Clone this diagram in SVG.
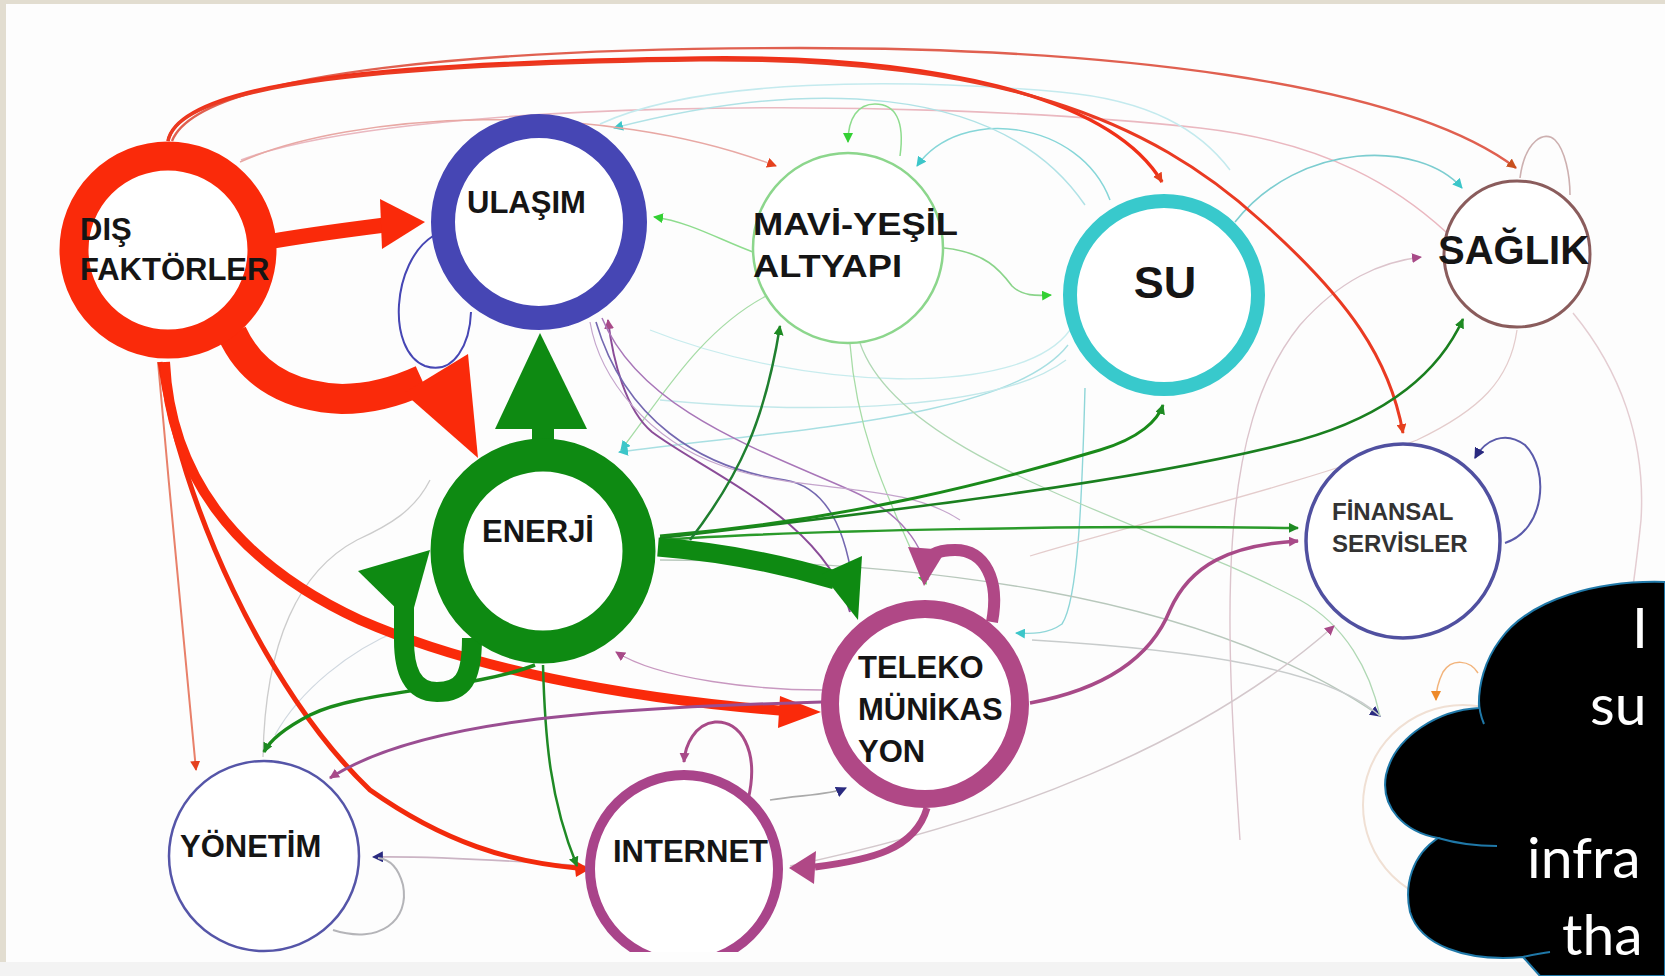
<svg xmlns="http://www.w3.org/2000/svg" width="1665" height="976" viewBox="0 0 1665 976">
<style>
.nt{font-family:"Liberation Sans",Arial,sans-serif;font-weight:bold;fill:#151515}
.ct{font-family:Lato,"Open Sans",sans-serif;font-size:57px;fill:#ffffff}
</style>
<defs>
<marker id="aR" viewBox="0 0 10 10" refX="9" refY="5" markerWidth="10" markerHeight="10" markerUnits="userSpaceOnUse" orient="auto"><path d="M0,0L10,5L0,10z" fill="#e5401e"/></marker>
<marker id="aG" viewBox="0 0 10 10" refX="9" refY="5" markerWidth="10" markerHeight="10" markerUnits="userSpaceOnUse" orient="auto"><path d="M0,0L10,5L0,10z" fill="#1d8a22"/></marker>
<marker id="aLG" viewBox="0 0 10 10" refX="9" refY="5" markerWidth="10" markerHeight="10" markerUnits="userSpaceOnUse" orient="auto"><path d="M0,0L10,5L0,10z" fill="#33d033"/></marker>
<marker id="aC" viewBox="0 0 10 10" refX="9" refY="5" markerWidth="10" markerHeight="10" markerUnits="userSpaceOnUse" orient="auto"><path d="M0,0L10,5L0,10z" fill="#3cc6c9"/></marker>
<marker id="aM" viewBox="0 0 10 10" refX="9" refY="5" markerWidth="10" markerHeight="10" markerUnits="userSpaceOnUse" orient="auto"><path d="M0,0L10,5L0,10z" fill="#a84a88"/></marker>
<marker id="aN" viewBox="0 0 10 10" refX="9" refY="5" markerWidth="11" markerHeight="11" markerUnits="userSpaceOnUse" orient="auto"><path d="M0,0L10,5L0,10z" fill="#2a2a80"/></marker>
<marker id="aO" viewBox="0 0 10 10" refX="9" refY="5" markerWidth="10" markerHeight="10" markerUnits="userSpaceOnUse" orient="auto"><path d="M0,0L10,5L0,10z" fill="#ee8a2a"/></marker>
<marker id="aB" viewBox="0 0 10 10" refX="9" refY="5" markerWidth="10" markerHeight="10" markerUnits="userSpaceOnUse" orient="auto"><path d="M0,0L10,5L0,10z" fill="#c8501e"/></marker>
<clipPath id="cutBottom"><rect x="0" y="0" width="1665" height="952"/></clipPath>
</defs>

<rect width="1665" height="976" fill="#fdfdfd"/>
<rect x="0" y="0" width="1665" height="4" fill="#e2ddd0"/>
<rect x="0" y="0" width="6" height="976" fill="#e2ddd0"/>

<g id="connectors" fill="none">
<path d="M241,160 C400,100 900,95 1200,128 C1330,143 1400,190 1446,232" stroke="#eab8c0" stroke-width="1.6"/>
<path d="M600,124 C700,78 900,78 1060,92 C1150,100 1200,130 1230,170" stroke="#c4eaee" stroke-width="1.5"/>
<path d="M1110,200 C1080,120 960,105 917,166" stroke="#86d6d8" stroke-width="1.5" marker-end="url(#aC)"/>
<path d="M1085,205 C1000,80 800,80 614,128" stroke="#b0e2e6" stroke-width="1.5" marker-end="url(#aC)"/>
<path d="M1235,222 C1300,140 1420,140 1462,188" stroke="#7ccdd0" stroke-width="1.6" marker-end="url(#aC)"/>
<path d="M1068,345 C1010,420 780,430 619,452" stroke="#a8dfe2" stroke-width="1.4" marker-end="url(#aC)"/>
<path d="M1066,360 C1000,410 820,415 660,400" stroke="#c2e8ea" stroke-width="1.4"/>
<path d="M1070,330 C1020,400 800,390 650,330" stroke="#c8ecee" stroke-width="1.3"/>
<path d="M1085,388 C1082,500 1078,600 1062,624 C1048,634 1032,634 1016,633" stroke="#8fd6d8" stroke-width="1.4" marker-end="url(#aC)"/>
<path d="M900,156 C905,120 895,104 875,104 C858,104 848,118 848,142" stroke="#8edc8e" stroke-width="1.5" marker-end="url(#aLG)"/>
<path d="M240,162 C350,112 600,98 776,166" stroke="#e8a8a4" stroke-width="1.5" marker-end="url(#aR)"/>
<path d="M753,252 C720,240 690,222 654,217" stroke="#8edc8e" stroke-width="1.5" marker-end="url(#aLG)"/>
<path d="M944,248 C985,252 1000,270 1012,286 C1022,296 1036,296 1051,295" stroke="#8ad48a" stroke-width="1.6" marker-end="url(#aLG)"/>
<path d="M768,295 C700,330 660,400 621,450" stroke="#a6dca6" stroke-width="1.3" marker-end="url(#aC)"/>
<path d="M850,344 C858,450 900,520 926,584" stroke="#a6dca6" stroke-width="1.3" marker-end="url(#aLG)"/>
<path d="M660,560 C900,560 1200,590 1380,716" stroke="#b8c8bc" stroke-width="1.4" marker-end="url(#aN)"/>
<path d="M860,343 C900,460 1150,520 1300,600 C1345,625 1370,670 1380,716" stroke="#b0d8b4" stroke-width="1.3"/>
<path d="M1032,640 C1200,650 1330,670 1380,716" stroke="#c8cccc" stroke-width="1.3"/>
<path d="M1517,330 C1510,380 1480,410 1417,440 C1300,485 1150,520 1030,556" stroke="#e4cccc" stroke-width="1.3"/>
<path d="M1573,313 C1620,370 1646,440 1641,520 C1637,560 1633,585 1630,610" stroke="#e4cdd2" stroke-width="1.5"/>
<path d="M1240,840 C1225,620 1215,430 1300,325 C1340,280 1380,262 1421,257" stroke="#dcc4cc" stroke-width="1.4" marker-end="url(#aM)"/>
<path d="M790,866 C1000,822 1200,745 1334,626" stroke="#d4c8cc" stroke-width="1.5" marker-end="url(#aM)"/>
<path d="M263,757 C265,640 300,570 357,540 C390,525 415,510 430,480" stroke="#cccccc" stroke-width="1.3"/>
<path d="M275,735 C300,690 350,650 400,630" stroke="#d0d8e0" stroke-width="1.2"/>
<path d="M1478,673 C1470,660 1452,658 1443,672 C1438,682 1436,692 1436,700" stroke="#f2b47c" stroke-width="1.5" marker-end="url(#aO)"/>
<path d="M1520,178 C1525,140 1545,130 1555,140 C1565,150 1570,175 1570,195" stroke="#cdb0b0" stroke-width="1.6"/>
<path d="M433,236 C392,262 386,350 425,366 C455,376 470,342 471,312" stroke="#4646b4" stroke-width="2"/>
<path d="M850,612 C825,520 705,472 652,432 C626,410 613,362 608,320" stroke="#8a4c98" stroke-width="2" marker-end="url(#aM)"/>
<path d="M596,322 C625,420 700,468 785,480 C832,488 850,540 856,610" stroke="#7468b0" stroke-width="1.6"/>
<path d="M602,318 C640,410 760,450 850,490 C900,512 925,545 928,580" stroke="#a876b8" stroke-width="1.5"/>
<path d="M590,322 C600,380 650,440 720,465 C800,495 900,480 960,520" stroke="#c4a4cc" stroke-width="1.2"/>
<path d="M1505,543 C1545,530 1550,470 1525,445 C1505,430 1485,440 1475,458" stroke="#5a5aaa" stroke-width="2" marker-end="url(#aN)"/>
<path d="M585,866 C500,860 430,856 373,857" stroke="#cbb4c4" stroke-width="1.6" marker-end="url(#aN)"/>
<path d="M333,930 C380,945 410,920 403,885 C398,866 388,859 378,858" stroke="#b4b4b8" stroke-width="2"/>
<path d="M770,800 C800,795 830,795 846,788" stroke="#aaaaaa" stroke-width="1.6" marker-end="url(#aN)"/>
<path d="M822,690 C760,690 660,680 616,652" stroke="#c898c0" stroke-width="1.3" marker-end="url(#aM)"/>

<path d="M158,362 C170,500 185,650 196,770" stroke="#e8806a" stroke-width="2" marker-end="url(#aR)"/>
<path d="M160,362 C180,500 265,690 370,790 C445,843 510,862 577,868" stroke="#f22a0c" stroke-width="5"/>
<path d="M590,869 L574,860 L576,877 Z" fill="#f22a0c" stroke="none"/>
<path d="M172,141 C200,70 500,48 800,48 C1100,48 1400,80 1516,168" stroke="#e06050" stroke-width="2.4" marker-end="url(#aB)"/>
<path d="M168,141 C180,80 400,62 700,58 C930,55 1110,95 1162,182" stroke="#f03018" stroke-width="3.5" marker-end="url(#aR)"/>
<path d="M168,141 C180,82 400,64 700,60 C1000,58 1150,120 1260,220 C1350,300 1390,360 1403,433" stroke="#ea3a22" stroke-width="3" marker-end="url(#aR)"/>
<path d="M165,362 C170,470 230,560 360,620 C470,668 620,698 785,711" stroke="#fa2a0a" stroke-width="10"/>
<polygon points="780,696 821,712 778,728" fill="#fa2a0a"/>
<path d="M262,243 C300,236 330,232 385,225" stroke="#fa2a0a" stroke-width="15"/>
<polygon points="380,199 425,222 382,249" fill="#fa2a0a"/>
<path d="M232,333 C252,377 292,397 342,399 C372,399 398,391 422,380" stroke="#fa2a0a" stroke-width="30"/>
<polygon points="404,393 468,354 478,458" fill="#fa2a0a"/>

<path d="M660,540 C800,530 1100,525 1298,528" stroke="#2a9a2a" stroke-width="2.5" marker-end="url(#aG)"/>
<path d="M660,538 C900,510 1150,480 1300,440 C1390,415 1440,370 1463,319" stroke="#1a7f1f" stroke-width="2.6" marker-end="url(#aG)"/>
<path d="M660,536 C850,520 1000,480 1100,450 C1140,438 1158,420 1163,405" stroke="#1a8a1a" stroke-width="3" marker-end="url(#aG)"/>
<path d="M690,540 C740,475 765,420 780,326" stroke="#1f7f2f" stroke-width="2.5" marker-end="url(#aG)"/>
<path d="M535,665 C470,690 360,690 310,715 C285,728 270,740 264,752" stroke="#1a8a1a" stroke-width="3.5" marker-end="url(#aG)"/>
<path d="M543,665 C545,740 550,800 577,866" stroke="#1f8a25" stroke-width="2.5" marker-end="url(#aG)"/>
<path d="M658,547 C720,552 775,562 835,580" stroke="#0e8a12" stroke-width="19"/>
<polygon points="822,574 862,556 858,620" fill="#0e8a12"/>
<path d="M543,446 L543,424" stroke="#0e8a12" stroke-width="22"/>
<polygon points="495,429 587,429 540,333" fill="#0e8a12"/>
<path d="M472,638 C472,680 462,692 437,692 C412,692 404,670 404,640 L404,598" stroke="#0e8a12" stroke-width="20"/>
<polygon points="358,571 430,550 410,622" fill="#0e8a12"/>

<path d="M1030,703 C1100,690 1150,660 1170,610 C1190,565 1230,545 1298,541" stroke="#a84a88" stroke-width="3.5" marker-end="url(#aM)"/>
<path d="M822,702 C600,708 420,720 330,778" stroke="#9a4e92" stroke-width="3" marker-end="url(#aM)"/>
<path d="M927,808 C915,850 870,860 815,867" stroke="#b04886" stroke-width="7"/>
<polygon points="816,851 789,868 814,884" fill="#b04886"/>
<path d="M992,622 C1000,580 985,550 955,550 C935,550 927,556 926,566" stroke="#b04886" stroke-width="12"/>
<polygon points="908,547 946,550 924,586" fill="#b04886"/>
<path d="M748,800 C760,750 740,720 715,722 C695,724 685,745 684,762" stroke="#a84a88" stroke-width="3" marker-end="url(#aM)"/>
</g>

<g id="node-hidden"><circle cx="1463" cy="805" r="100" fill="none" stroke="#f0e0d4" stroke-width="2"/></g>

<g id="node-dis">
<circle cx="168" cy="250" r="94" fill="#ffffff" stroke="#fa2a0a" stroke-width="29"/>
<text class="nt" x="80" y="240" font-size="31">DIŞ</text>
<text class="nt" x="80" y="280" font-size="31">FAKTÖRLER</text>
</g>
<g id="node-ulasim">
<circle cx="539" cy="222" r="96" fill="#ffffff" stroke="#4646b4" stroke-width="24"/>
<text class="nt" x="467" y="213" font-size="31">ULAŞIM</text>
</g>
<g id="node-mavi">
<circle cx="848" cy="248" r="95" fill="#ffffff" stroke="#8cd68c" stroke-width="2.5"/>
<text class="nt" x="753" y="235" font-size="31" textLength="205" lengthAdjust="spacingAndGlyphs">MAVİ-YEŞİL</text>
<text class="nt" x="753" y="277" font-size="31" textLength="149" lengthAdjust="spacingAndGlyphs">ALTYAPI</text>
</g>
<g id="node-su">
<circle cx="1164" cy="295" r="94" fill="#ffffff" stroke="#38c9cc" stroke-width="14"/>
<text class="nt" x="1165" y="298" font-size="45" text-anchor="middle">SU</text>
</g>
<g id="node-saglik">
<circle cx="1517" cy="254" r="73" fill="#ffffff" stroke="#8a5c5c" stroke-width="3"/>
<text class="nt" x="1438" y="264" font-size="40">SAĞLIK</text>
</g>
<g id="node-enerji">
<circle cx="543" cy="551" r="96" fill="#ffffff" stroke="#0e8a12" stroke-width="33"/>
<text class="nt" x="482" y="542" font-size="31">ENERJİ</text>
</g>
<g id="node-finansal">
<circle cx="1403" cy="541" r="97" fill="#ffffff" stroke="#5050a0" stroke-width="3.5"/>
<text class="nt" x="1332" y="520" font-size="24" style="fill:#333333">FİNANSAL</text>
<text class="nt" x="1332" y="552" font-size="24" style="fill:#333333">SERVİSLER</text>
</g>
<g id="node-teleko">
<circle cx="925" cy="704" r="95" fill="#ffffff" stroke="#b04886" stroke-width="18"/>
<text class="nt" x="858" y="678" font-size="31">TELEKO</text>
<text class="nt" x="858" y="720" font-size="31">MÜNİKAS</text>
<text class="nt" x="858" y="762" font-size="31">YON</text>
</g>
<g id="node-internet">
<circle cx="684" cy="869" r="94" fill="#ffffff" stroke="#a9448a" stroke-width="10" clip-path="url(#cutBottom)"/>
<text class="nt" x="613" y="862" font-size="31">INTERNET</text>
</g>
<g id="node-yonetim">
<circle cx="264" cy="856" r="95" fill="#ffffff" stroke="#5555a8" stroke-width="2.5"/>
<text class="nt" x="180" y="857" font-size="31">YÖNETİM</text>
</g>

<rect x="0" y="962" width="1665" height="14" fill="#f3f3f3"/>

<g id="cloud">
<path d="M1665,582 C1600,580 1530,598 1500,640 C1485,660 1478,685 1479,708 C1440,710 1395,735 1386,775 C1380,808 1405,832 1438,838 C1412,855 1404,885 1410,912 C1420,945 1465,962 1523,957 L1540,976 L1665,976 Z" fill="#000000" stroke="#1f78a8" stroke-width="2"/>
<path d="M1479,700 C1479,710 1481,717 1484,724 M1438,838 C1455,843 1475,846 1497,846 M1523,957 C1532,955 1541,953 1550,952" fill="none" stroke="#1f78a8" stroke-width="2"/>
<text class="ct" x="1632" y="648">I</text>
<text class="ct" x="1590" y="725">su</text>
<text class="ct" x="1527" y="878">infra</text>
<text class="ct" x="1562" y="955">tha</text>
</g>
</svg>
